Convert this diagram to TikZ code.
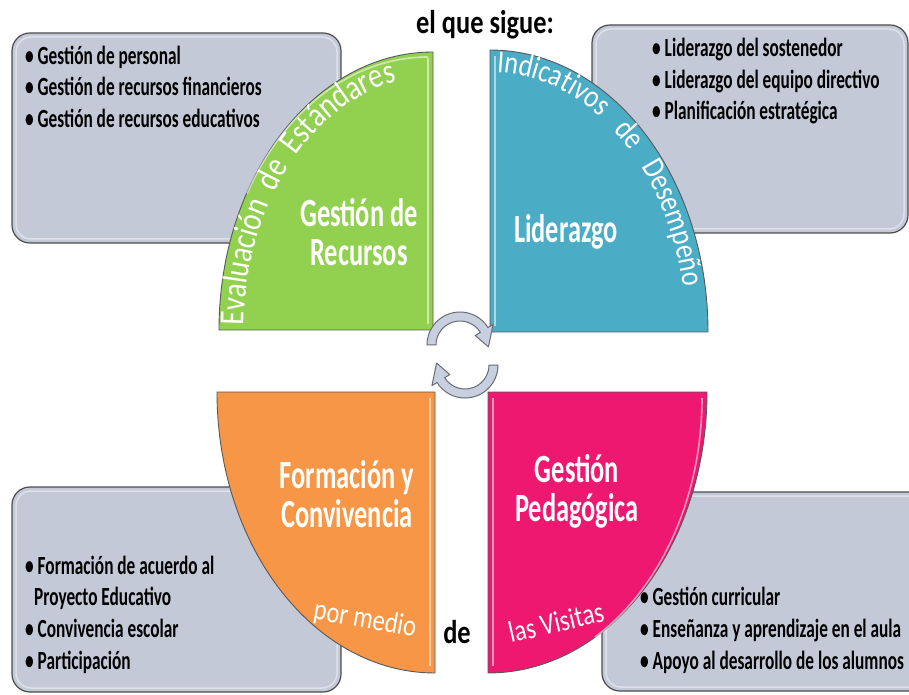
\documentclass[tikz,border=0pt]{standalone}
\usepackage{fontspec}
\setmainfont{Carlito}
\newfontfamily\condfont{Carlito}[FakeStretch=0.66]
\newfontfamily\titlefont{Carlito}[FakeStretch=0.8]
\newfontfamily\curvefam{Carlito}[FakeStretch=0.82]
\usetikzlibrary{decorations.text}
\definecolor{qgreen}{RGB}{146,208,80}
\definecolor{qblue}{RGB}{75,172,198}
\definecolor{qorange}{RGB}{247,150,70}
\definecolor{qpink}{RGB}{238,24,112}
\definecolor{boxgray}{RGB}{196,201,216}
\definecolor{cycfill}{RGB}{200,208,224}
\definecolor{cycline}{RGB}{105,108,118}
\tikzset{
  graybox/.style={draw=black!70, line width=1.2pt, fill=boxgray, rounded corners=18pt},
  boxrim/.style={draw=white, opacity=0.45, line width=1.5pt, rounded corners=15pt},
  quad/.style={draw=black!65, line width=0.9pt},
  hilite/.style={draw=white, opacity=0.55, line width=1.6pt},
  cyc/.style={draw=cycline, line width=1pt, fill=cycfill, line join=round},
  listtext/.style={anchor=base west, inner sep=0pt, text=black, font=\condfont\bfseries\fontsize{26.2}{31}\selectfont},
  quadtitle/.style={align=center, inner sep=0pt, text=white, font=\condfont\bfseries\fontsize{40}{39}\selectfont},
  blacklabel/.style={inner sep=0pt, text=black, font=\titlefont\bfseries\fontsize{33}{33}\selectfont},
  slanted/.style={inner sep=0pt, text=white, font=\curvefam\fontsize{30}{30}\selectfont},
}
\begin{document}
\begin{tikzpicture}[x=1pt,y=1pt]
\useasboundingbox (0,0) rectangle (909,694);
\clip (0,0) rectangle (909,694);
\fill[white] (0,0) rectangle (909,694);

% gray boxes
\path[graybox] (12,451) rectangle (341,661);
\path[boxrim] (16,455) rectangle (337,657);
\path[graybox] (592,461) rectangle (908,669);
\path[boxrim] (596,465) rectangle (904,665);
\path[graybox] (12,2) rectangle (341,207);
\path[boxrim] (16,6) rectangle (337,203);
\path[graybox] (602,3) rectangle (940,202);
\path[boxrim] (606,7) rectangle (936,198);

% quadrants
\path[quad, fill=qgreen] (219,364) -- (433,364) -- (433,642)
  arc[start angle=90, end angle=180, x radius=214, y radius=278] -- cycle;
\draw[hilite] (428,370) -- (428,636);
\draw[hilite] (428,637) arc[start angle=90, end angle=150, x radius=209, y radius=273];

\path[quad, fill=qblue] (490,362) -- (708,362)
  arc[start angle=0, end angle=90, x radius=218, y radius=282] -- cycle;
\draw[hilite] (495,368) -- (495,638);

\path[quad, fill=qorange] (435,302) -- (217,302)
  arc[start angle=180, end angle=270, x radius=218, y radius=281] -- cycle;
\draw[hilite] (430,296) -- (430,28);

\path[quad, fill=qpink] (488,302) -- (488,21)
  arc[start angle=270, end angle=360, x radius=219, y radius=281] -- cycle;
\draw[hilite] (493,296) -- (493,28);
\draw[hilite] (702,296) arc[start angle=0, end angle=-60, x radius=214, y radius=276];

% cycle arrows
\begin{scope}[shift={(460,349)}]
\path[cyc] (180:33) arc[start angle=180, end angle=32, radius=33]
  -- (32:39) -- (-4:28.5) -- (32:18) -- (32:24)
  arc[start angle=32, end angle=180, radius=24] -- cycle;
\end{scope}
\begin{scope}[shift={(465,329)}]
\path[cyc] (0:33) arc[start angle=0, end angle=-148, radius=33]
  -- (-148:39) -- (-184:28.5) -- (-148:18) -- (-148:24)
  arc[start angle=-148, end angle=0, radius=24] -- cycle;
\end{scope}

% curved texts
\begin{scope}[shift={(433,364)}]
\path[decorate, decoration={text along path, text color=white,
  text={|\curvefam\fontsize{35}{35}\selectfont|Evaluación  de  Estándares},
  text align={fit to path stretching spaces}}]
  (179:189 and 253) arc[start angle=179, end angle=101, x radius=189, y radius=253];
\end{scope}
\begin{scope}[shift={(490,362)}]
\path[decorate, decoration={text along path, text color=white,
  text={|\curvefam\fontsize{32}{32}\selectfont|Indicativos de Desempeño},
  text align={fit to path stretching spaces}}]
  (88:196 and 260) arc[start angle=88, end angle=10, x radius=196, y radius=260];
\end{scope}

% title and connecting words
\node[blacklabel] (title) at (485,669) {el que sigue:};
\node[blacklabel] (de) at (457,62) {de};
\node[slanted, rotate=-10] (pormedio) at (365,74) {por medio};
\node[slanted, rotate=13] (visitas) at (556,72) {las Visitas};

% quadrant titles
\node[quadtitle] (qgr) at (359,461.5) {Gestión de\\Recursos};
\node[quadtitle] (qli) at (566,462) {Liderazgo};
\node[quadtitle] (qfc) at (347,199.5) {Formación y\\Convivencia};
\node[quadtitle] (qgp) at (577,202.5) {Gestión\\Pedagógica};

% lists
\node[listtext] (tl1) at (25,629) {\textbullet\ Gestión de personal};
\node[listtext] (tl2) at (25,598) {\textbullet\ Gestión de recursos financieros};
\node[listtext] (tl3) at (25,566) {\textbullet\ Gestión de recursos educativos};

\node[listtext] (tr1) at (652,637) {\textbullet\ Liderazgo del sostenedor};
\node[listtext] (tr2) at (652,605) {\textbullet\ Liderazgo del equipo directivo};
\node[listtext] (tr3) at (652,574) {\textbullet\ Planificación estratégica};

\node[listtext] (bl1) at (25,120) {\textbullet\ Formación de acuerdo al};
\node[listtext] (bl2) at (34,89) {Proyecto Educativo};
\node[listtext] (bl3) at (25,57) {\textbullet\ Convivencia escolar};
\node[listtext] (bl4) at (25,25) {\textbullet\ Participación};

\node[listtext] (br1) at (640,89) {\textbullet\ Gestión curricular};
\node[listtext] (br2) at (640,57) {\textbullet\ Enseñanza y aprendizaje en el aula};
\node[listtext] (br3) at (640,25) {\textbullet\ Apoyo al desarrollo de los alumnos};
\end{tikzpicture}
\end{document}
